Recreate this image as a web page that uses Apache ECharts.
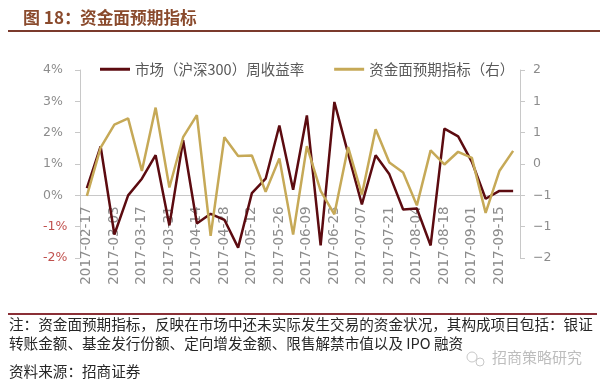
<!DOCTYPE html>
<html><head><meta charset="utf-8">
<script src="https://cdn.jsdelivr.net/npm/echarts@6/dist/echarts.min.js"></script>
<style>html,body{margin:0;padding:0;background:#fff}#c{width:600px;height:384px}</style>
</head><body><div id="c"></div>
<script>
const categories = ['2017-02-17','2017-02-24','2017-03-03','2017-03-10','2017-03-17','2017-03-24','2017-03-31','2017-04-07','2017-04-14','2017-04-21','2017-04-28','2017-05-05','2017-05-12','2017-05-19','2017-05-26','2017-06-02','2017-06-09','2017-06-16','2017-06-23','2017-06-30','2017-07-07','2017-07-14','2017-07-21','2017-07-28','2017-08-04','2017-08-11','2017-08-18','2017-08-25','2017-09-01','2017-09-08','2017-09-15','2017-09-22'];
// 市场（沪深300）周收益率, in %
const marketReturn = [0.23,1.56,-1.25,0.00,0.53,1.28,-0.96,1.76,-0.90,-0.59,-0.78,-1.67,0.07,0.53,2.23,0.18,2.55,-1.60,2.98,1.33,-0.29,1.28,0.67,-0.45,-0.42,-1.60,2.13,1.88,1.07,-0.11,0.14,0.14];
// 资金面预期指标（右）
const fundIndicator = [-0.68,0.35,0.84,0.97,-0.15,1.20,-0.50,0.57,1.04,-1.53,0.57,0.17,0.18,-0.59,0.12,-1.50,0.38,-0.57,-1.07,0.36,-0.65,0.74,0.03,-0.18,-0.88,0.29,-0.01,0.26,0.13,-1.04,-0.15,0.28];
const seriesNames = ['市场（沪深300）周收益率','资金面预期指标（右）'];
const leftAxisRange = [-2, 4, 1];
const rightAxisRange = [-2, 2, 2/3];
const titleParts = ['图 18：','资金面预期指标'];
const noteLines = ['注：资金面预期指标，反映在市场中还未实际发生交易的资金状况，其构成项目包括：银证','转账金额、基金发行份额、定向增发金额、限售解禁市值以及 IPO 融资'];
const sourceText = '资料来源：招商证券';
const watermarkText = '招商策略研究';

const cjk = '"Noto Sans CJK SC", "Noto Sans", sans-serif';
const gridTop = 70, gridBottom = 126, gridH = 384 - gridTop - gridBottom;
// distance from the grid bottom up to the 0% level of the left axis
const zeroShift = gridH * (0 - leftAxisRange[0]) / (leftAxisRange[1] - leftAxisRange[0]);

const chart = echarts.init(document.getElementById('c'));
chart.setOption({
  animation: false,
  backgroundColor: '#fff',
  grid: {left: 80, right: 80, top: gridTop, bottom: gridBottom},
  legend: {
    left: 95, top: 57, itemWidth: 30, itemHeight: 3, itemGap: 30, icon: 'rect',
    textStyle: {fontFamily: cjk, fontSize: 14.5, color: '#595959'},
    data: seriesNames
  },
  xAxis: {
    type: 'category', data: categories, boundaryGap: true, position: 'bottom',
    offset: -zeroShift,
    axisLine: {onZero: false, lineStyle: {color: '#c8c8c8', width: 1}},
    axisTick: {show: false},
    axisLabel: {interval: 1, rotate: 90, margin: 11, fontFamily: '"DejaVu Sans", sans-serif', fontSize: 13.5, color: '#8c8c8c'}
  },
  yAxis: [{
    type: 'value', min: leftAxisRange[0], max: leftAxisRange[1], interval: leftAxisRange[2],
    splitLine: {show: false},
    axisLine: {show: true, lineStyle: {color: '#c8c8c8'}},
    axisTick: {show: true, length: 5, lineStyle: {color: '#c8c8c8'}},
    axisLabel: {margin: 37, align: 'left', fontFamily: '"DejaVu Sans", sans-serif', fontSize: 12.5,
      formatter: v => Math.round(v) + '%',
      color: v => (v < 0 ? '#c0504d' : '#8c8c8c')}
  }, {
    type: 'value', min: rightAxisRange[0], max: rightAxisRange[1], interval: rightAxisRange[2],
    splitLine: {show: false},
    axisLine: {show: true, lineStyle: {color: '#c8c8c8'}},
    axisTick: {show: true, length: 5, lineStyle: {color: '#c8c8c8'}},
    axisLabel: {margin: 13, fontFamily: '"DejaVu Sans", sans-serif', fontSize: 12.5, color: '#8c8c8c',
      formatter: v => String(Math.round(v)).replace('-', '−')}
  }],
  series: [{
    name: seriesNames[0], type: 'line', data: marketReturn, yAxisIndex: 0,
    symbol: 'none', lineStyle: {color: '#5c0b10', width: 2.5}, itemStyle: {color: '#5c0b10'}
  }, {
    name: seriesNames[1], type: 'line', data: fundIndicator, yAxisIndex: 1,
    symbol: 'none', lineStyle: {color: '#c6a957', width: 2.5}, itemStyle: {color: '#c6a957'}
  }],
  graphic: [
    {type: 'text', left: 23, top: 9, style: {text: titleParts[0], font: 'bold 17px ' + cjk, fill: '#8a4a2c'}},
    {type: 'text', left: 80, top: 9, style: {text: titleParts[1], font: 'bold 16.7px ' + cjk, fill: '#8a4a2c'}},
    {type: 'line', shape: {x1: 8, y1: 31, x2: 600, y2: 31}, style: {stroke: '#7b3a2c', lineWidth: 2}},
    {type: 'line', shape: {x1: 8, y1: 314, x2: 597, y2: 314}, style: {stroke: '#8a2f36', lineWidth: 2}},
    {type: 'text', left: 9, top: 317, style: {text: noteLines[0], font: '14.6px ' + cjk, fill: '#262626'}},
    {type: 'text', left: 9, top: 336, style: {text: noteLines[1], font: '14.6px ' + cjk, fill: '#262626'}},
    {type: 'text', left: 9, top: 364, style: {text: sourceText, font: '14.6px ' + cjk, fill: '#262626'}},
    {type: 'circle', shape: {cx: 472, cy: 357, r: 5}, style: {fill: 'none', stroke: '#c8c8c8', lineWidth: 1}},
    {type: 'circle', shape: {cx: 480, cy: 362, r: 4}, style: {fill: 'none', stroke: '#c8c8c8', lineWidth: 1}},
    {type: 'text', left: 492, top: 350, style: {text: watermarkText, font: '15px ' + cjk, fill: '#bdbdbd'}}
  ]
});
</script>
</body></html>
